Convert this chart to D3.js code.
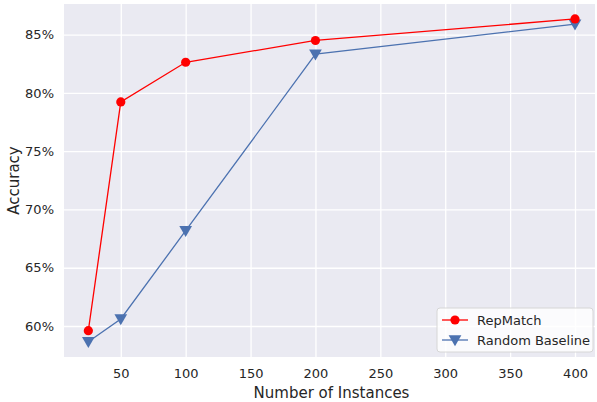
<!DOCTYPE html>
<html>
<head>
<meta charset="utf-8">
<script src="https://cdn.jsdelivr.net/npm/d3@7"></script>
<style>
  body { margin: 0; background: #ffffff; }
  text { font-family: "DejaVu Sans", sans-serif; fill: #262626; }
</style>
</head>
<body>
<svg id="chart" width="597" height="402"></svg>
<script>
// values
var instances = [25, 50, 100, 200, 400];
var repMatch = [59.6, 79.23, 82.63, 84.5, 86.35];
var randomBaseline = [58.65, 60.6, 68.18, 83.32, 85.9];
var xTicks = [50, 100, 150, 200, 250, 300, 350, 400];
var yTicks = [60, 65, 70, 75, 80, 85];

var svg = d3.select("#chart");

var plot = {left: 64, right: 595, top: 4, bottom: 357};

var xScale = d3.scaleLinear()
    .domain([6.25, 415.4])
    .range([plot.left, plot.right]);

var yScale = d3.scaleLinear()
    .domain([57.34, 87.63])
    .range([plot.bottom, plot.top]);

// background
svg.append("rect")
    .attr("x", plot.left)
    .attr("y", plot.top)
    .attr("width", plot.right - plot.left)
    .attr("height", plot.bottom - plot.top)
    .attr("fill", "#eaeaf2");

// grid
svg.append("g")
    .attr("transform", "translate(0," + plot.bottom + ")")
    .call(d3.axisBottom(xScale).tickValues(xTicks).tickSize(-(plot.bottom - plot.top)).tickFormat(""))
    .call(function(g) { g.select(".domain").remove(); })
    .selectAll("line").attr("stroke", "#ffffff").attr("stroke-width", 1.3);

svg.append("g")
    .attr("transform", "translate(" + plot.left + ",0)")
    .call(d3.axisLeft(yScale).tickValues(yTicks).tickSize(-(plot.right - plot.left)).tickFormat(""))
    .call(function(g) { g.select(".domain").remove(); })
    .selectAll("line").attr("stroke", "#ffffff").attr("stroke-width", 1.3);

// tick labels
var xAxis = svg.append("g")
    .attr("transform", "translate(0," + plot.bottom + ")")
    .call(d3.axisBottom(xScale).tickValues(xTicks).tickSize(0).tickPadding(12));
xAxis.select(".domain").remove();
xAxis.selectAll("text").style("font-size", "13px").attr("fill", "#262626")
    .style("font-family", "DejaVu Sans, sans-serif");

var yAxis = svg.append("g")
    .attr("transform", "translate(" + plot.left + ",0)")
    .call(d3.axisLeft(yScale).tickValues(yTicks).tickSize(0).tickPadding(10)
      .tickFormat(function(d) { return d + "%"; }));
yAxis.select(".domain").remove();
yAxis.selectAll("text").style("font-size", "13px").attr("fill", "#262626")
    .style("font-family", "DejaVu Sans, sans-serif");

// axis titles
svg.append("text")
    .attr("x", (plot.left + plot.right) / 2 + 2)
    .attr("y", 398)
    .style("text-anchor", "middle")
    .style("font-size", "15px")
    .text("Number of Instances");

svg.append("text")
    .attr("transform", "translate(19," + ((plot.top + plot.bottom) / 2) + ") rotate(-90)")
    .style("text-anchor", "middle")
    .style("font-size", "15px")
    .text("Accuracy");

var line = d3.line()
    .x(function(d) { return xScale(d[0]); })
    .y(function(d) { return yScale(d[1]); });

var seriesA = instances.map(function(v, i) { return [v, repMatch[i]]; });
var seriesB = instances.map(function(v, i) { return [v, randomBaseline[i]]; });

var tri = d3.symbol().type(d3.symbolTriangle).size(70);

// random baseline
svg.append("path")
    .datum(seriesB)
    .attr("fill", "none")
    .attr("stroke", "#4c72b0")
    .attr("stroke-width", 1.3)
    .attr("d", line);

svg.append("g").selectAll("path")
    .data(seriesB)
    .join("path")
    .attr("transform", function(d) { return "translate(" + xScale(d[0]) + "," + (yScale(d[1]) - 1) + ") rotate(180)"; })
    .attr("d", tri)
    .attr("fill", "#4c72b0");

// repmatch
svg.append("path")
    .datum(seriesA)
    .attr("fill", "none")
    .attr("stroke", "#ff0000")
    .attr("stroke-width", 1.3)
    .attr("d", line);

svg.append("g").selectAll("circle")
    .data(seriesA)
    .join("circle")
    .attr("cx", function(d) { return xScale(d[0]); })
    .attr("cy", function(d) { return yScale(d[1]); })
    .attr("r", 4.6)
    .attr("fill", "#ff0000");

// legend
var legend = svg.append("g").attr("transform", "translate(437,308)");
legend.append("rect")
    .attr("width", 156)
    .attr("height", 44)
    .attr("rx", 3)
    .attr("fill", "#ffffff")
    .attr("fill-opacity", 0.8)
    .attr("stroke", "#d6d6d6")
    .attr("stroke-width", 1);

var legendItems = [
  {label: "RepMatch", color: "#ff0000", shape: "circle"},
  {label: "Random Baseline", color: "#4c72b0", shape: "tri"}
];

legendItems.forEach(function(item, i) {
  var y = 12 + i * 20;
  legend.append("line")
      .attr("x1", 5).attr("x2", 31)
      .attr("y1", y).attr("y2", y)
      .attr("stroke", item.color)
      .attr("stroke-width", 1.3);
  if (item.shape === "circle") {
    legend.append("circle").attr("cx", 18).attr("cy", y).attr("r", 4.6).attr("fill", item.color);
  } else {
    legend.append("path")
        .attr("transform", "translate(18," + (y - 1) + ") rotate(180)")
        .attr("d", tri)
        .attr("fill", item.color);
  }
  legend.append("text")
      .attr("x", 40)
      .attr("y", y)
      .attr("dy", "0.35em")
      .style("font-size", "13px")
      .text(item.label);
});
</script>
</body>
</html>
